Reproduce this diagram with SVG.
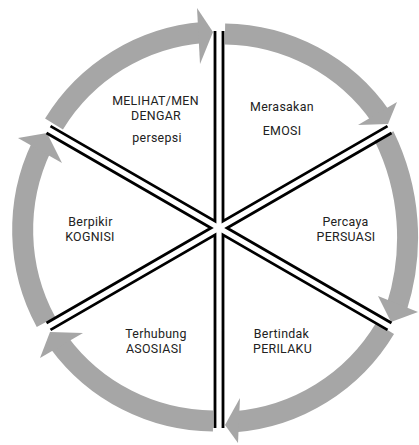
<svg xmlns="http://www.w3.org/2000/svg" width="419" height="445" viewBox="0 0 419 445">
<style>
.arc{fill:none;stroke:#a6a6a6;stroke-width:21;stroke-linecap:butt}
.head{fill:#a6a6a6;stroke:none}
.sp{fill:none;stroke:#000;stroke-width:2.8;stroke-linejoin:miter}
.t{font-family:Roboto,"Open Sans",sans-serif;font-size:12.4px;letter-spacing:0.3px;fill:#222;text-anchor:middle}
</style>
<rect width="419" height="445" fill="#fff"/>
<g id="connectors">
<path class="arc" d="M54,124 A193,193 0 0 1 203,32.5"/>
<polygon class="head" points="197,8 200,64 213,32"/>
<path class="arc" d="M225,34 A193,193 0 0 1 381,117"/>
<polygon class="head" points="358,125 397,102 388,124"/>
<path class="arc" d="M384,136 A230,230 0 0 1 396.6,307.7"/>
<polygon class="head" points="378,296 418,312 391,322"/>
<path class="arc" d="M385,328.5 A193,193 0 0 1 235,421.7"/>
<polygon class="head" points="240,398 238,443 225,425"/>
<path class="arc" d="M213,421 A193,193 0 0 1 59,342.5"/>
<polygon class="head" points="40,358 83,333 50,332"/>
<path class="arc" d="M46,322 A193,193 0 0 1 41.5,146.8"/>
<polygon class="head" points="18,138 62,163 47,133"/>
</g>
<g id="spokes">
<polyline class="sp" points="50.5,126.1 215,221.1 215,31.1"/>
<polyline class="sp" points="223,31.1 223,221.1 387.5,126.1"/>
<polyline class="sp" points="391.5,133 227,228 391.5,323"/>
<polyline class="sp" points="387.5,329.9 223,234.9 223,428"/>
<polyline class="sp" points="215,428 215,234.9 50.5,329.9"/>
<polyline class="sp" points="46.5,323 211,228 46.5,133"/>
</g>
<g id="node-persepsi">
<text class="t"><tspan x="155.5" y="105">MELIHAT/MEN</tspan><tspan x="156" y="120">DENGAR</tspan><tspan x="157" y="142">persepsi</tspan></text>
</g>
<g id="node-emosi">
<text class="t"><tspan x="282" y="111">Merasakan</tspan><tspan x="282" y="135">EMOSI</tspan></text>
</g>
<g id="node-persuasi">
<text class="t"><tspan x="345.5" y="226">Percaya</tspan><tspan x="346" y="241">PERSUASI</tspan></text>
</g>
<g id="node-perilaku">
<text class="t"><tspan x="281.5" y="338">Bertindak</tspan><tspan x="282.5" y="353">PERILAKU</tspan></text>
</g>
<g id="node-asosiasi">
<text class="t"><tspan x="156" y="338">Terhubung</tspan><tspan x="154" y="353">ASOSIASI</tspan></text>
</g>
<g id="node-kognisi">
<text class="t"><tspan x="90.5" y="226">Berpikir</tspan><tspan x="90" y="241">KOGNISI</tspan></text>
</g>
</svg>
